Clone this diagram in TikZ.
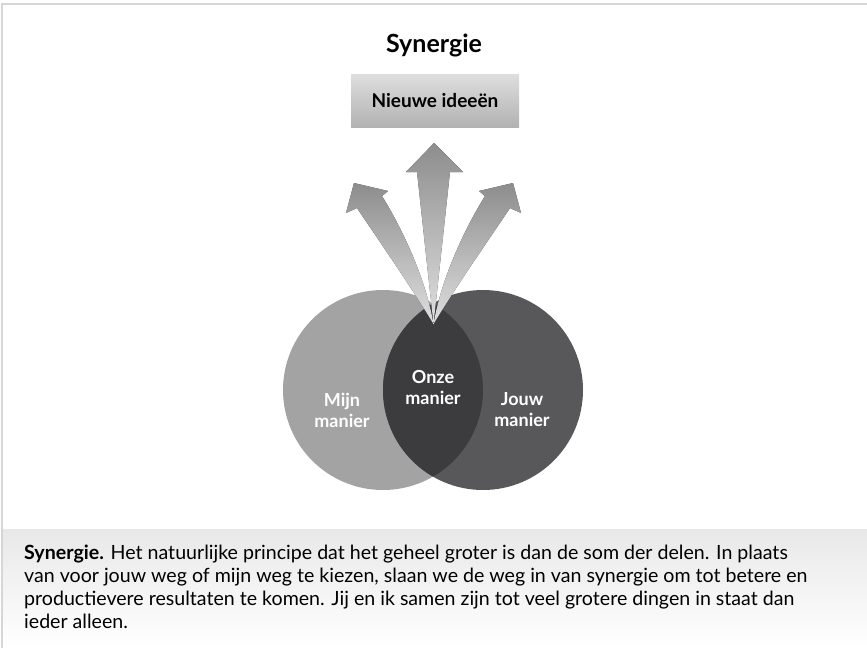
\documentclass[tikz,border=0pt]{standalone}
\usepackage{fontspec}
\setmainfont{Lato}

\definecolor{randgrijs}{HTML}{D6D6D6}
\definecolor{mijngrijs}{HTML}{A3A3A4}
\definecolor{jouwgrijs}{HTML}{58585A}
\definecolor{onzegrijs}{HTML}{3C3C3E}
\definecolor{pijlgrijs}{HTML}{9A9A9B}
\definecolor{blokboven}{HTML}{DEDEDF}
\definecolor{blokonder}{HTML}{B2B2B3}
\definecolor{onderschrift}{HTML}{E8E8E8}

\begin{document}
\begin{tikzpicture}[x=1pt, y=-1pt,
    cirkel/.style = {circle, minimum size=200pt, inner sep=0pt},
    cirkeltekst/.style = {text=white, align=center,
        font=\bfseries\fontsize{18}{21}\selectfont},
    pijl/.style = {top color=pijlgrijs, bottom color=white!92!pijlgrijs}]
\useasboundingbox (0,0) rectangle (867,648);

% onderschrift achtergrond en kader
\fill[top color=onderschrift, bottom color=white] (3,529) rectangle (867,648);
\draw[randgrijs, line width=1.5pt] (2,648) -- (2,4) -- (867,4);

\node[font=\bfseries\fontsize{25}{28}\selectfont] (titel) at (434,45) {Synergie};
\node[minimum width=168pt, minimum height=53pt, top color=blokboven,
    bottom color=blokonder, font=\bfseries\fontsize{19}{22}\selectfont]
    (idee) at (435,100.5) {Nieuwe ideeën};

% de twee cirkels en de overlap
\node[cirkel, fill=mijngrijs] (mijn) at (383,390) {};
\node[cirkel, fill=jouwgrijs] (jouw) at (483,390) {};
\begin{scope}
    \clip (mijn.center) circle (100pt);
    \fill[onzegrijs] (jouw.center) circle (100pt);
\end{scope}

\node[cirkeltekst] (mijntekst) at (342,410) {Mijn\\manier};
\node[cirkeltekst] (onzetekst) at (433,387) {Onze\\manier};
\node[cirkeltekst] (jouwtekst) at (522,410) {Jouw\\manier};

% pijlen
\coordinate (bron) at (433.5,324);
\fill[pijl, opacity=0.9] (bron) .. controls (410,285) and (375,235) .. (357,208)
    -- (346,213) -- (354,183) -- (388,191) -- (382,196)
    .. controls (400,225) and (425,275) .. (bron);
\fill[pijl, opacity=0.9] (bron) -- (417,172) -- (406,172) -- (434,143)
    -- (463,172) -- (450,172) -- cycle;
\fill[pijl, opacity=0.9] (bron) .. controls (457,285) and (492,235) .. (510,208)
    -- (521,213) -- (513,183) -- (479,191) -- (485,196)
    .. controls (467,225) and (442,275) .. (bron);

\node[anchor=north west, inner sep=0pt, align=left,
    font=\fontsize{19.6}{23}\selectfont] (uitleg) at (24,545)
    {\textbf{Synergie.} Het natuurlijke principe dat het geheel groter is dan de som der delen. In plaats\\
    van voor jouw weg of mijn weg te kiezen, slaan we de weg in van synergie om tot betere en\\
    productievere resultaten te komen. Jij en ik samen zijn tot veel grotere dingen in staat dan\\
    ieder alleen.};
\end{tikzpicture}
\end{document}
